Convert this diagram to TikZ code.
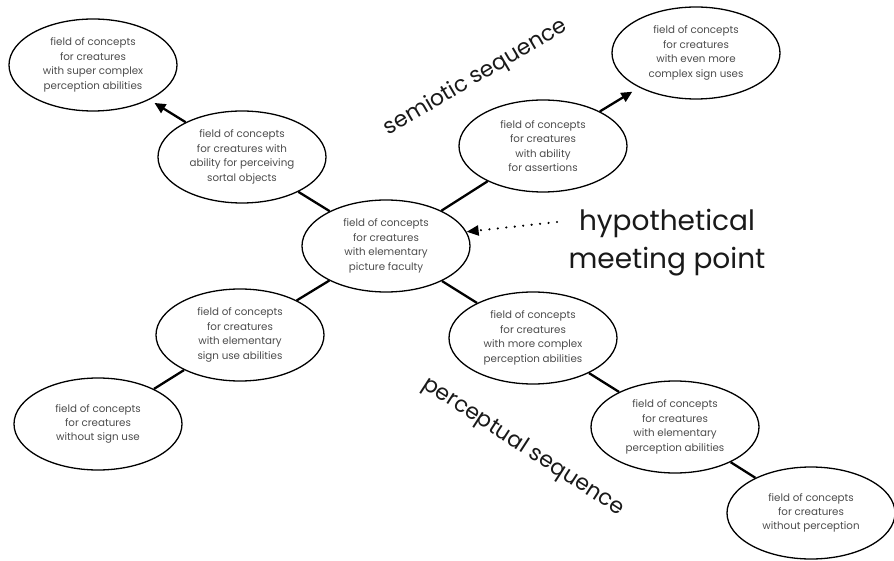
\documentclass[tikz,border=0pt]{standalone}
\usepackage{fontspec}
\setmainfont{Poppins}
\usetikzlibrary{shapes.geometric,arrows.meta}
\begin{document}
\begin{tikzpicture}[x=1pt,y=-1pt,
  field/.style={ellipse,draw=black,line width=1.3pt,minimum width=168pt,minimum height=92pt,
    inner sep=0pt,align=center,font=\fontsize{10.3}{14.4}\selectfont,text=black!70},
  link/.style={line width=2.3pt},
  arr/.style={line width=2.3pt,-{Triangle[length=11pt,width=10pt]}},
  dotarr/.style={line width=2.4pt,line cap=round,dash pattern=on 0pt off 8.5pt,
    -{Triangle[length=12pt,width=10pt]}},
  big/.style={font=\fontsize{22}{26}\selectfont,inner sep=0pt,text=black!90},
  hyptext/.style={font=\fontsize{28}{38}\selectfont,align=center,inner sep=0pt,text=black!90}]
\useasboundingbox (0,0) rectangle (894,561);

\node[field] (super) at (93,65) {field of concepts\\for creatures\\with super complex\\perception abilities};
\node[field] (sortal) at (242,157) {field of concepts\\for creatures with\\ability for perceiving\\sortal objects};
\node[field] (center) at (386,246) {field of concepts\\for creatures\\with elementary\\picture faculty};
\node[field] (assert) at (543,146) {field of concepts\\for creatures\\with ability\\for assertions};
\node[field] (evenmore) at (696,53) {field of concepts\\for creatures\\with even more\\complex sign uses};
\node[field] (signuse) at (240,335) {field of concepts\\for creatures\\with elementary\\sign use abilities};
\node[field] (nosign) at (98,424) {field of concepts\\for creatures\\without sign use};
\node[field] (morecomplex) at (533,338) {field of concepts\\for creatures\\with more complex\\perception abilities};
\node[field] (elemperc) at (675,427) {field of concepts\\for creatures\\with elementary\\perception abilities};
\node[field] (noperc) at (811,513) {field of concepts\\for creatures\\without perception};

\draw[link] (sortal) -- (center);
\draw[link] (center) -- (assert);
\draw[link] (center) -- (signuse);
\draw[link] (signuse) -- (nosign);
\draw[link] (center) -- (morecomplex);
\draw[link] (morecomplex) -- (elemperc);
\draw[link] (elemperc) -- (noperc);
\draw[arr,shorten >=6pt] (sortal) -- (super);
\draw[arr,shorten >=8pt] (assert) -- (evenmore);

\node[hyptext] (hyp) at (667,243) {hypothetical\\meeting point};
\coordinate (hs) at (557,222);
\draw[dotarr] (hs) -- (center.10);

\node[big,rotate=30.5] (semio) at (476,78) {semiotic sequence};
\node[big,rotate=-33] (perc) at (523,447) {perceptual sequence};
\end{tikzpicture}
\end{document}
